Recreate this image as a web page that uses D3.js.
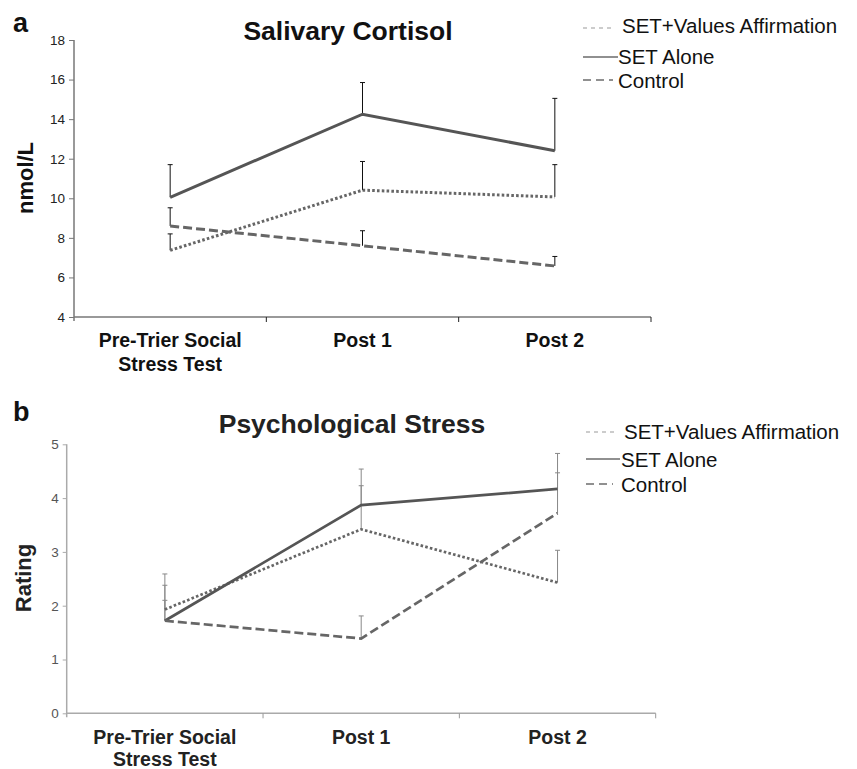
<!DOCTYPE html>
<html><head><meta charset="utf-8">
<script src="https://cdn.jsdelivr.net/npm/d3@7"></script>
<style>body{margin:0;background:#fff}svg{display:block}text{font-family:"Liberation Sans",Arial,Helvetica,sans-serif}</style>
</head><body>
<script>
const categories = ["Pre-Trier Social Stress Test", "Post 1", "Post 2"];
const categoryLines = [["Pre-Trier Social", "Stress Test"], ["Post 1"], ["Post 2"]];
const seriesNames = ["SET+Values Affirmation", "SET Alone", "Control"];

// Panel a: Salivary Cortisol (nmol/L)
const cortisolAffirm = [7.37, 10.41, 10.07];
const cortisolAffirmTop = [8.2, 11.86, 11.7];
const cortisolAlone = [10.05, 14.25, 12.4];
const cortisolAloneTop = [11.7, 15.85, 15.05];
const cortisolControl = [8.6, 7.6, 6.58];
const cortisolControlTop = [9.52, 8.36, 7.06];
const cortisolTicks = [4, 6, 8, 10, 12, 14, 16, 18];

// Panel b: Psychological Stress (Rating)
const stressAffirm = [1.93, 3.42, 2.43];
const stressAffirmTop = [2.59, 4.23, 3.03];
const stressAlone = [1.72, 3.87, 4.17];
const stressAloneTop = [2.38, 4.54, 4.83];
const stressControl = [1.72, 1.39, 3.72];
const stressControlTop = [2.1, 1.81, 4.47];
const stressTicks = [0, 1, 2, 3, 4, 5];

const W = 857, H = 769;
const svg = d3.select("body").append("svg").attr("width", W).attr("height", H);

const styles = [
  {dash: "2.6,2.2", color: "#666"},
  {dash: null, color: "#555"},
  {dash: "9,4", color: "#666"}
];

function panel(o) {
  const g = svg.append("g");
  const x = d3.scaleBand().domain(categories).range([o.x0, o.x1]);
  const y = d3.scaleLinear().domain(o.yDomain).range([o.yBottom, o.yTop]);
  const cx = c => x(c) + x.bandwidth() / 2;

  // y axis
  const ya = g.append("g").attr("transform", `translate(${o.x0},0)`)
    .call(d3.axisLeft(y).tickValues(o.ticks).tickSize(o.tickLen).tickPadding(4).tickFormat(d3.format("d")));
  ya.select(".domain").attr("stroke", o.axisColor).attr("stroke-width", 1.5).attr("d", `M0,${o.yTop}V${o.yBottom + 4}`);
  ya.selectAll(".tick line").attr("stroke", o.axisColor);
  ya.selectAll(".tick text").attr("font-size", 13.5).attr("fill", o.tickTextColor)
    .attr("font-family", '"Liberation Sans",Arial,sans-serif');

  // x axis
  const xa = g.append("g").attr("transform", `translate(0,${o.yBottom})`);
  xa.append("path").attr("d", `M${o.x0},0H${o.x1}`).attr("stroke", o.axisColor).attr("stroke-width", 1.5).attr("fill", "none");
  const bounds = categories.map(c => x(c)).concat([o.x1]);
  xa.selectAll("line.b").data(bounds.slice(1)).join("line")
    .attr("x1", d => d).attr("x2", d => d).attr("y1", 0).attr("y2", 5)
    .attr("stroke", o.xTickColor).attr("stroke-width", 1);
  categories.forEach((c, i) => {
    categoryLines[i].forEach((ln, j) => {
      g.append("text").attr("x", cx(c)).attr("y", o.catBase + j * o.catLH)
        .attr("text-anchor", "middle").attr("font-weight", "bold").attr("font-size", 19.5)
        .attr("fill", o.labelColor).text(ln);
    });
  });

  // error bars
  o.series.forEach((s) => {
    categories.forEach((c, i) => {
      const xx = cx(c);
      g.append("line").attr("x1", xx).attr("x2", xx).attr("y1", y(s.vals[i])).attr("y2", y(s.tops[i]))
        .attr("stroke", o.errColor).attr("stroke-width", 1);
      g.append("line").attr("x1", xx - 2.5).attr("x2", xx + 2.5).attr("y1", y(s.tops[i])).attr("y2", y(s.tops[i]))
        .attr("stroke", o.errColor).attr("stroke-width", 1);
    });
  });

  // lines
  const line = d3.line().x((d, i) => cx(categories[i])).y(d => y(d));
  o.series.forEach((s, si) => {
    const st = styles[si];
    g.append("path").datum(s.vals).attr("d", line).attr("fill", "none")
      .attr("stroke", st.color).attr("stroke-width", o.lineWidth)
      .attr("stroke-dasharray", st.dash);
  });

  // titles
  g.append("text").attr("x", o.titleX).attr("y", o.titleY).attr("text-anchor", "middle")
    .attr("font-weight", "bold").attr("font-size", 26.5).attr("fill", o.labelColor).text(o.title);
  g.append("text").attr("x", 13).attr("y", o.letterY).attr("font-weight", "bold").attr("font-size", 27)
    .attr("fill", "#111").text(o.letter);
  g.append("text").attr("transform", `translate(${o.yLabelX},${o.yLabelY}) rotate(-90)`)
    .attr("text-anchor", "middle").attr("font-weight", "bold").attr("font-size", 22)
    .attr("fill", o.labelColor).text(o.yLabel);

  // legend
  const lg = o.legend;
  const legendStyles = [
    {dash: "4,4", color: "#999"},
    {dash: null, color: "#222"},
    {dash: "8,5", color: "#222"}
  ];
  seriesNames.forEach((n, i) => {
    const L = lg[i];
    g.append("line").attr("x1", L.lx0).attr("x2", L.lx1).attr("y1", L.ly).attr("y2", L.ly)
      .attr("stroke", legendStyles[i].color).attr("stroke-width", 1.2)
      .attr("stroke-dasharray", legendStyles[i].dash);
    g.append("text").attr("x", L.tx).attr("y", L.ty).attr("font-size", 20.5).attr("fill", "#111").text(n);
  });
}

panel({
  x0: 74, x1: 651, yBottom: 317, yTop: 40, yDomain: [4, 18], ticks: cortisolTicks, tickLen: 5,
  axisColor: "#777", xTickColor: "#222", tickTextColor: "#222", labelColor: "#111", errColor: "#111",
  catBase: 346.7, catLH: 24, lineWidth: 3,
  title: "Salivary Cortisol", titleX: 348, titleY: 40, letter: "a", letterY: 32,
  yLabel: "nmol/L", yLabelX: 33, yLabelY: 178,
  series: [
    {vals: cortisolAffirm, tops: cortisolAffirmTop},
    {vals: cortisolAlone, tops: cortisolAloneTop},
    {vals: cortisolControl, tops: cortisolControlTop}
  ],
  legend: [
    {lx0: 583, lx1: 615, ly: 28, tx: 622, ty: 33},
    {lx0: 583, lx1: 618, ly: 57, tx: 618, ty: 64},
    {lx0: 583, lx1: 613, ly: 80, tx: 618, ty: 88}
  ]
});

panel({
  x0: 66.7, x1: 655.7, yBottom: 713.3, yTop: 444.3, yDomain: [0, 5], ticks: stressTicks, tickLen: 4,
  axisColor: "#aaa", xTickColor: "#999", tickTextColor: "#555", labelColor: "#222", errColor: "#888",
  catBase: 744, catLH: 21.5, lineWidth: 2.7,
  title: "Psychological Stress", titleX: 352, titleY: 433, letter: "b", letterY: 421,
  yLabel: "Rating", yLabelX: 31, yLabelY: 578,
  series: [
    {vals: stressAffirm, tops: stressAffirmTop},
    {vals: stressAlone, tops: stressAloneTop},
    {vals: stressControl, tops: stressControlTop}
  ],
  legend: [
    {lx0: 586, lx1: 617, ly: 432, tx: 624, ty: 439},
    {lx0: 586, lx1: 620, ly: 459, tx: 621, ty: 467},
    {lx0: 586, lx1: 613, ly: 484, tx: 621, ty: 492}
  ]
});
</script>
</body></html>
